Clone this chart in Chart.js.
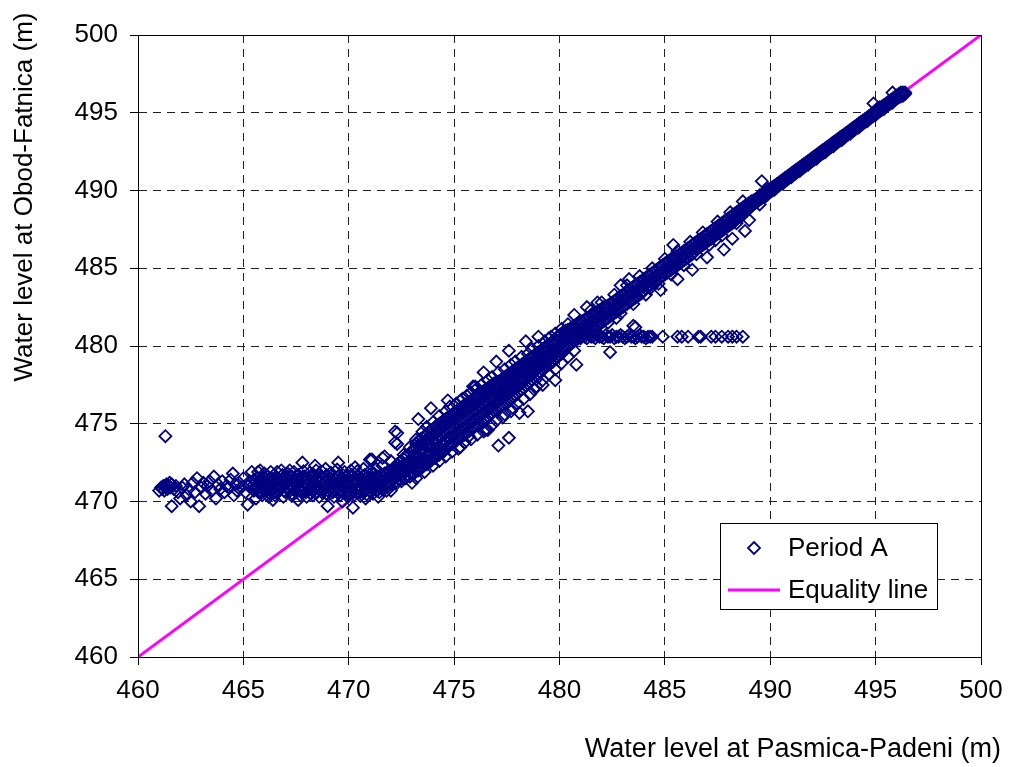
<!DOCTYPE html>
<html>
<head>
<meta charset="utf-8">
<script src="https://cdn.jsdelivr.net/npm/chart.js@4/dist/chart.umd.min.js"></script>
<style>
  html, body { margin: 0; padding: 0; background: #fff; }
  canvas { display: block; }
</style>
</head>
<body>
<canvas id="c" width="1009" height="767"></canvas>
<script>
// ---------------- DATA ----------------
const tickValues = [460, 465, 470, 475, 480, 485, 490, 495, 500];
const xTitle = "Water level at Pasmica-Padeni (m)";
const yTitle = "Water level at Obod-Fatnica (m)";
const seriesNames = ["Period A", "Equality line"];
const equalityLine = [[460, 460], [500, 500]];

// rows: [x, y1, y2, ...]  (Period A, low-flow plateau)
const flatLeft = [
  [461.0, 470.7], [461.1, 470.9], [461.15, 470.8], [461.2, 471.0], [461.25, 470.7],
  [461.3, 470.9, 474.2], [461.35, 471.1], [461.4, 470.8], [461.45, 471.0], [461.5, 471.2],
  [461.55, 470.9], [461.6, 471.1, 469.7], [461.7, 470.8]
];
const flatSparse = [
  [461.8, 471.0], [461.9, 470.6], [462.0, 470.2], [462.1, 470.9], [462.2, 471.1], [462.3, 470.4],
  [462.4, 470.8], [462.5, 470.0], [462.6, 471.2], [462.7, 470.6], [462.8, 471.5], [462.9, 469.7],
  [463.0, 470.9], [463.1, 471.2], [463.2, 470.5], [463.3, 471.0], [463.4, 471.3], [463.5, 470.7],
  [463.6, 471.6], [463.7, 470.2], [463.8, 471.1], [463.9, 470.8], [464.0, 471.3], [464.1, 470.6],
  [464.2, 471.0], [464.3, 470.9], [464.4, 471.4], [464.5, 471.8], [464.55, 470.4], [464.6, 471.1],
  [464.7, 470.7], [464.8, 471.2], [464.9, 470.9], [465.0, 471.5], [465.1, 470.6], [465.2, 469.8],
  [465.25, 471.0], [465.3, 471.3], [465.4, 471.9], [465.45, 470.8]
];
const flatDense = [
  [465.5, 470.7, 471.1, 471.4], [465.65, 470.8, 471.0, 471.5], [465.8, 470.6, 471.2, 471.4],
  [465.95, 470.9, 471.1, 471.6], [466.1, 470.7, 471.0, 471.3], [466.25, 470.5, 471.2, 471.5],
  [466.4, 470.8, 471.1, 471.4], [466.55, 470.6, 470.9, 471.6], [466.7, 470.7, 471.2, 471.4],
  [466.85, 470.9, 471.0, 471.7], [467.0, 470.6, 471.1, 471.5], [467.15, 470.8, 471.3, 471.4],
  [467.3, 470.5, 471.0, 471.6], [467.45, 470.7, 471.2, 471.5], [467.6, 470.9, 471.1, 471.7],
  [467.75, 470.6, 471.0, 471.4], [467.9, 470.8, 471.2, 471.6], [468.05, 470.7, 471.1, 471.5],
  [468.2, 470.5, 470.9, 471.4], [468.35, 470.8, 471.2, 471.7], [468.5, 470.6, 471.0, 471.5],
  [468.65, 470.9, 471.3, 471.6], [468.8, 470.7, 471.1, 471.4], [468.95, 470.5, 471.0, 471.7],
  [469.1, 470.8, 471.2, 471.5], [469.25, 470.6, 471.1, 471.6], [469.4, 470.7, 470.9, 471.4],
  [469.55, 470.9, 471.3, 471.7], [469.7, 470.6, 471.0, 471.5], [469.85, 470.8, 471.2, 471.6],
  [470.0, 470.5, 471.1, 471.4], [470.15, 470.7, 470.9, 471.7], [470.3, 470.8, 471.2, 471.5],
  [470.45, 470.6, 471.0, 471.6], [470.6, 470.9, 471.3, 471.5], [470.75, 470.7, 471.1, 471.7],
  [470.9, 470.8, 471.2, 471.6], [471.05, 470.6, 471.0, 471.5], [471.2, 470.9, 471.3, 471.8],
  [471.35, 470.7, 471.1, 471.6]
];
const flatFill = [
  [465.57, 470.9, 471.3], [465.72, 470.6, 471.2], [465.87, 470.8, 471.5], [466.02, 470.7, 471.3],
  [466.17, 470.9, 471.6], [466.32, 470.8, 471.3], [466.47, 470.6, 471.2], [466.62, 470.8, 471.5],
  [466.77, 470.9, 471.3], [466.92, 470.7, 471.4], [467.07, 470.9, 471.2], [467.22, 470.7, 471.6],
  [467.37, 470.8, 471.3], [467.52, 470.6, 471.4], [467.67, 470.8, 471.3], [467.82, 470.9, 471.6],
  [467.97, 470.6, 471.4], [468.12, 470.8, 471.3], [468.27, 470.7, 471.6], [468.42, 470.9, 471.4],
  [468.57, 470.8, 471.3], [468.72, 470.6, 471.5], [468.87, 470.9, 471.3], [469.02, 470.7, 471.4],
  [469.17, 470.9, 471.3], [469.32, 470.8, 471.5], [469.47, 470.6, 471.2], [469.62, 470.7, 471.4],
  [469.77, 470.9, 471.3], [469.92, 470.7, 471.6], [470.07, 470.8, 471.3], [470.22, 470.6, 471.4],
  [470.37, 470.9, 471.3], [470.52, 470.8, 471.5], [470.67, 470.6, 471.4], [470.82, 470.9, 471.3],
  [470.97, 470.7, 471.4], [471.12, 470.8, 471.5], [471.27, 470.9, 471.4], [471.42, 471.0, 471.4]
];
const flatScatter = [
  [465.7, 471.9], [465.9, 470.4], [466.0, 471.8], [466.2, 470.3], [466.3, 471.9], [466.5, 470.4],
  [466.8, 472.0], [466.9, 470.3], [467.1, 471.8], [467.3, 470.35], [467.4, 471.9], [467.7, 470.4],
  [467.85, 471.95], [468.0, 470.3], [468.15, 471.85], [468.3, 470.4], [468.45, 472.0], [468.6, 470.3],
  [468.75, 471.9], [469.0, 470.4], [469.15, 471.85], [469.3, 470.3], [469.45, 472.05], [469.6, 470.4],
  [469.8, 471.9], [469.95, 470.3], [470.1, 472.0], [470.25, 470.4], [470.4, 471.95], [470.55, 470.35],
  [470.7, 472.1], [470.85, 470.45], [471.0, 471.95], [471.15, 470.5], [471.3, 472.1], [471.45, 470.6],
  [471.6, 472.3], [471.8, 470.7], [472.0, 472.6]
];
const flatOutliers = [
  [467.8, 472.5], [468.4, 472.3], [469.5, 472.5], [471.0, 472.7], [471.7, 472.9], [472.3, 474.4],
  [472.3, 473.7], [466.4, 470.1], [467.6, 470.1], [469.0, 469.7], [469.7, 470.0], [470.2, 469.6],
  [465.8, 472.0], [466.6, 471.9], [467.2, 472.0], [468.9, 472.1], [470.3, 472.2], [465.6, 470.2],
  [470.8, 470.2], [471.4, 470.3]
];
// rising limb
const riseBand = [
  [471.5, 470.9, 471.2, 471.5, 471.7], [471.7, 470.8, 471.1, 471.4, 471.8],
  [471.9, 471.0, 471.3, 471.6, 472.0], [472.1, 471.1, 471.4, 471.7, 472.1],
  [472.3, 471.2, 471.6, 471.9, 472.4], [472.5, 471.3, 471.7, 472.1, 472.6],
  [472.7, 471.5, 471.9, 472.3, 472.9], [472.9, 471.6, 472.1, 472.6, 473.1],
  [473.1, 471.8, 472.3, 472.8, 473.4], [473.3, 472.0, 472.5, 473.0, 473.6, 473.9],
  [473.5, 472.2, 472.7, 473.2, 473.7, 474.1], [473.7, 472.4, 472.9, 473.5, 473.9, 474.3],
  [473.9, 472.6, 473.1, 473.6, 474.1, 474.6], [474.1, 472.8, 473.3, 473.8, 474.4, 474.8],
  [474.3, 473.0, 473.5, 474.1, 474.6, 475.0], [474.5, 473.2, 473.7, 474.3, 474.8, 475.2],
  [474.7, 473.5, 474.0, 474.5, 475.0, 475.4], [474.9, 473.7, 474.2, 474.7, 475.2, 475.6],
  [475.1, 473.9, 474.4, 474.9, 475.4, 475.8], [475.3, 474.1, 474.6, 475.1, 475.6, 476.0],
  [475.5, 474.3, 474.8, 475.3, 475.8, 476.2], [475.7, 474.5, 475.0, 475.5, 476.0, 476.4],
  [475.9, 474.7, 475.2, 475.7, 476.2, 476.6], [476.1, 474.9, 475.4, 475.9, 476.4, 476.8],
  [476.3, 475.1, 475.6, 476.1, 476.6, 477.0], [476.5, 475.3, 475.8, 476.3, 476.8, 477.2],
  [476.7, 475.6, 476.0, 476.5, 477.0, 477.4], [476.9, 475.8, 476.3, 476.7, 477.2, 477.6],
  [477.1, 476.0, 476.5, 476.9, 477.4, 477.7], [477.3, 476.2, 476.7, 477.1, 477.6, 477.9],
  [477.5, 476.4, 476.9, 477.3, 477.8, 478.1], [477.7, 476.6, 477.1, 477.5, 478.0, 478.3],
  [477.9, 476.8, 477.3, 477.7, 478.2, 478.5], [478.1, 477.1, 477.5, 477.9, 478.4, 478.7],
  [478.3, 477.3, 477.7, 478.2, 478.6, 478.9], [478.5, 477.6, 478.0, 478.4, 478.8, 479.1],
  [478.7, 477.8, 478.2, 478.6, 479.0, 479.3], [478.9, 478.1, 478.5, 478.8, 479.2, 479.5],
  [479.1, 478.3, 478.7, 479.0, 479.4, 479.7], [479.3, 478.6, 478.9, 479.3, 479.6, 479.9],
  [479.5, 478.8, 479.1, 479.5, 479.8, 480.1], [479.7, 479.0, 479.4, 479.7, 480.1, 480.3],
  [479.9, 479.3, 479.6, 479.9, 480.3, 480.6], [480.1, 479.5, 479.8, 480.2, 480.5, 480.8],
  [480.3, 479.8, 480.1, 480.4, 480.7, 481.0], [480.5, 480.1, 480.4, 480.6, 480.9, 481.1],
  [480.7, 480.3, 480.6, 480.8, 481.1, 481.3], [480.9, 480.5, 480.8, 481.0, 481.3, 481.5]
];
const riseFill = [
  [471.6, 471.0, 471.35, 471.65], [471.8, 471.1, 471.45, 471.8], [472.0, 471.2, 471.5, 471.9],
  [472.2, 471.25, 471.6, 472.0, 472.2], [472.4, 471.4, 471.8, 472.2, 472.5],
  [472.6, 471.5, 471.9, 472.35, 472.75], [472.8, 471.7, 472.1, 472.5, 472.95],
  [473.0, 471.8, 472.3, 472.75, 473.2], [473.2, 472.0, 472.5, 472.95, 473.45, 473.7],
  [473.4, 472.2, 472.65, 473.2, 473.65, 474.0], [473.6, 472.4, 472.85, 473.35, 473.85, 474.2],
  [473.8, 472.6, 473.1, 473.6, 474.05, 474.45], [474.0, 472.8, 473.3, 473.8, 474.25, 474.65],
  [474.2, 473.0, 473.5, 474.0, 474.45, 474.9], [474.4, 473.2, 473.7, 474.2, 474.7, 475.1],
  [474.6, 473.4, 473.9, 474.4, 474.9, 475.3], [474.8, 473.65, 474.1, 474.6, 475.1, 475.5],
  [475.0, 473.85, 474.3, 474.8, 475.3, 475.7], [475.2, 474.05, 474.5, 475.0, 475.5, 475.9],
  [475.4, 474.25, 474.7, 475.2, 475.7, 476.1], [475.6, 474.45, 474.9, 475.4, 475.9, 476.3],
  [475.8, 474.65, 475.1, 475.6, 476.1, 476.5], [476.0, 474.85, 475.3, 475.8, 476.3, 476.7],
  [476.2, 475.05, 475.5, 476.0, 476.5, 476.9], [476.4, 475.25, 475.7, 476.2, 476.7, 477.1],
  [476.6, 475.5, 475.9, 476.4, 476.9, 477.3], [476.8, 475.7, 476.15, 476.6, 477.1, 477.5],
  [477.0, 475.9, 476.4, 476.8, 477.3, 477.65], [477.2, 476.1, 476.6, 477.0, 477.5, 477.8],
  [477.4, 476.3, 476.8, 477.2, 477.7, 478.0], [477.6, 476.5, 477.0, 477.4, 477.9, 478.2],
  [477.8, 476.7, 477.2, 477.6, 478.1, 478.4], [478.0, 476.95, 477.4, 477.8, 478.3, 478.6],
  [478.2, 477.2, 477.6, 478.05, 478.5, 478.8], [478.4, 477.45, 477.85, 478.3, 478.7, 479.0],
  [478.6, 477.7, 478.1, 478.5, 478.9, 479.2], [478.8, 477.95, 478.35, 478.7, 479.1, 479.4],
  [479.0, 478.2, 478.6, 478.9, 479.3, 479.6], [479.2, 478.45, 478.8, 479.15, 479.5, 479.8],
  [479.4, 478.7, 479.0, 479.4, 479.7, 480.0], [479.6, 478.9, 479.25, 479.6, 479.95, 480.2],
  [479.8, 479.15, 479.5, 479.8, 480.2, 480.45], [480.0, 479.4, 479.7, 480.05, 480.4, 480.7],
  [480.2, 479.65, 479.95, 480.3, 480.6, 480.9], [480.4, 479.95, 480.25, 480.5, 480.8, 481.05],
  [480.6, 480.2, 480.5, 480.7, 481.0, 481.2], [480.8, 480.4, 480.7, 480.9, 481.2, 481.4],
  [481.0, 480.6, 480.9, 481.1, 481.4, 481.6]
];
const riseScatter = [
  [472.6, 473.0], [472.9, 473.5], [473.2, 474.0], [473.5, 474.5], [473.7, 474.8], [474.0, 475.1],
  [474.3, 475.5], [474.6, 475.8], [474.8, 476.1], [475.1, 476.3], [475.3, 476.5], [475.6, 476.8],
  [475.8, 477.0], [476.1, 477.3], [476.3, 477.5], [476.6, 477.8], [476.8, 478.0], [477.1, 478.3],
  [477.4, 478.5], [477.7, 478.8], [477.9, 479.0], [478.2, 479.3], [478.5, 479.5], [478.7, 479.8],
  [479.0, 480.0], [479.3, 480.3], [479.5, 480.5], [479.8, 480.8], [480.1, 481.1], [480.4, 481.4],
  [473.2, 471.5], [473.6, 471.9], [474.3, 472.6], [474.6, 472.9], [474.9, 473.2], [475.2, 473.4],
  [475.5, 473.8], [475.8, 474.0], [476.1, 474.3], [476.4, 474.5], [476.8, 474.9], [477.0, 475.2],
  [477.4, 475.6], [477.8, 476.0], [478.0, 476.3], [478.3, 476.6], [478.6, 476.9], [478.9, 477.4],
  [479.2, 477.8], [479.5, 478.2], [479.8, 478.5], [480.1, 478.9], [480.4, 479.3], [480.7, 479.7]
];
const riseOutliers = [
  [476.0, 477.4], [474.7, 476.5], [473.9, 476.0], [473.3, 475.3], [472.2, 474.5], [472.2, 473.8],
  [471.1, 472.7], [471.6, 472.8], [475.4, 476.6], [478.4, 480.3], [479.0, 480.6], [479.6, 480.6],
  [477.6, 479.7], [477.0, 479.0], [476.4, 478.3], [475.9, 477.4], [480.7, 482.0], [481.3, 482.5],
  [481.8, 482.8], [477.1, 473.6], [477.6, 474.1], [476.5, 474.6], [475.3, 473.5], [475.7, 474.2],
  [472.0, 470.7], [477.3, 475.4], [477.7, 475.8], [480.8, 478.8], [482.4, 479.6], [479.8, 477.8],
  [479.2, 477.5], [478.8, 477.2], [478.5, 475.8], [478.1, 475.7], [476.6, 474.6], [473.0, 471.2],
  [474.0, 472.3]
];
// upper limb
const upperBand = [
  [481.1, 480.7, 481.1, 481.6], [481.3, 480.9, 481.3, 481.8], [481.5, 481.0, 481.5, 482.0],
  [481.7, 481.2, 481.7, 482.1], [481.9, 481.4, 481.9, 482.3], [482.1, 481.6, 482.0, 482.5],
  [482.3, 481.8, 482.2, 482.6], [482.5, 482.0, 482.4, 482.8], [482.7, 482.2, 482.6, 483.0],
  [482.9, 482.4, 482.8, 483.2], [483.1, 482.6, 483.0, 483.4], [483.3, 482.8, 483.2, 483.6],
  [483.5, 483.0, 483.4, 483.8], [483.7, 483.2, 483.6, 484.0], [483.9, 483.4, 483.8, 484.2],
  [484.1, 483.7, 484.0, 484.4], [484.3, 483.9, 484.2, 484.6], [484.5, 484.1, 484.4, 484.8],
  [484.7, 484.3, 484.6, 485.0], [484.9, 484.5, 484.8, 485.2], [485.1, 484.7, 485.0, 485.4],
  [485.3, 484.9, 485.2, 485.6], [485.5, 485.1, 485.4, 485.7], [485.7, 485.3, 485.6, 485.9],
  [485.9, 485.5, 485.8, 486.1], [486.1, 485.7, 486.0, 486.3], [486.3, 485.9, 486.2, 486.5],
  [486.5, 486.2, 486.4, 486.7], [486.7, 486.4, 486.6, 486.9], [486.9, 486.6, 486.8, 487.1],
  [487.1, 486.8, 487.0, 487.3], [487.3, 487.0, 487.2, 487.5], [487.5, 487.2, 487.4, 487.7],
  [487.7, 487.4, 487.6, 487.9], [487.9, 487.6, 487.8, 488.1], [488.1, 487.8, 488.0, 488.3],
  [488.3, 488.0, 488.2, 488.5], [488.5, 488.3, 488.4, 488.7], [488.7, 488.5, 488.7, 488.9],
  [488.9, 488.7, 488.9, 489.1]
];
const upperFill = [
  [481.2, 480.85, 481.2, 481.7], [481.4, 481.0, 481.4, 481.85], [481.6, 481.15, 481.6, 482.05],
  [481.8, 481.3, 481.8, 482.2], [482.0, 481.5, 481.95, 482.4], [482.2, 481.7, 482.1, 482.55],
  [482.4, 481.9, 482.3, 482.7], [482.6, 482.1, 482.5, 482.9], [482.8, 482.3, 482.7, 483.1],
  [483.0, 482.5, 482.9, 483.3], [483.2, 482.7, 483.1, 483.5], [483.4, 482.9, 483.3, 483.7],
  [483.6, 483.1, 483.5, 483.9], [483.8, 483.3, 483.7, 484.1], [484.0, 483.55, 483.9, 484.3],
  [484.2, 483.8, 484.1, 484.5], [484.4, 484.0, 484.3, 484.7], [484.6, 484.2, 484.5, 484.9],
  [484.8, 484.4, 484.7, 485.1], [485.0, 484.6, 484.9, 485.3], [485.2, 484.8, 485.1, 485.5],
  [485.4, 485.0, 485.3, 485.65], [485.6, 485.2, 485.5, 485.8], [485.8, 485.4, 485.7, 486.0],
  [486.0, 485.6, 485.9, 486.2], [486.2, 485.8, 486.1, 486.4], [486.4, 486.05, 486.3, 486.6],
  [486.6, 486.3, 486.5, 486.8], [486.8, 486.5, 486.7, 487.0], [487.0, 486.7, 486.9, 487.2],
  [487.2, 486.9, 487.1, 487.4], [487.4, 487.1, 487.3, 487.6], [487.6, 487.3, 487.5, 487.8],
  [487.8, 487.5, 487.7, 488.0], [488.0, 487.7, 487.9, 488.2], [488.2, 487.9, 488.1, 488.4],
  [488.4, 488.15, 488.3, 488.6], [488.6, 488.4, 488.55, 488.8], [488.8, 488.6, 488.8, 489.0],
  [489.0, 488.85, 489.0, 489.2]
];
const upperScatter = [
  [481.5, 482.3], [482.0, 482.8], [482.6, 483.3], [483.2, 483.9], [483.8, 484.5], [484.4, 485.0],
  [485.0, 485.6], [485.6, 486.1], [486.2, 486.7], [486.8, 487.3], [487.5, 488.0], [488.1, 488.6],
  [481.7, 480.9], [482.3, 481.5], [482.9, 482.1], [483.5, 482.7], [484.1, 483.3], [484.7, 484.0],
  [485.3, 484.6], [485.9, 485.2], [486.5, 485.9], [487.1, 486.5], [487.7, 487.1], [488.4, 487.9]
];
const topBand = [
  [489.1, 489.0, 489.3], [489.3, 489.2, 489.4], [489.5, 489.4, 489.7], [489.7, 489.6, 489.8],
  [489.9, 489.8, 490.1], [490.1, 490.0, 490.2], [490.3, 490.2, 490.4], [490.5, 490.4, 490.6],
  [490.7, 490.6, 490.8], [490.9, 490.8, 491.0], [491.1, 491.0, 491.2], [491.3, 491.2, 491.4],
  [491.5, 491.4, 491.6], [491.7, 491.6, 491.8], [491.9, 491.8, 492.0], [492.1, 492.0, 492.2],
  [492.3, 492.2, 492.4], [492.5, 492.4, 492.6], [492.7, 492.6, 492.8], [492.9, 492.8, 493.0],
  [493.1, 493.0, 493.2], [493.3, 493.2, 493.4], [493.5, 493.4, 493.6], [493.7, 493.6, 493.8],
  [493.9, 493.8, 494.0], [494.1, 494.0, 494.2], [494.3, 494.2, 494.4], [494.5, 494.4, 494.6],
  [494.7, 494.6, 494.8], [494.9, 494.8, 495.0], [495.1, 495.0, 495.3], [495.3, 495.2, 495.4],
  [495.5, 495.4, 495.6], [495.7, 495.6, 495.8], [495.9, 495.8, 496.0], [496.1, 496.0, 496.2],
  [496.3, 496.1, 496.3]
];
const topFill = [
  [489.2, 489.1, 489.35], [489.4, 489.3, 489.5], [489.6, 489.5, 489.75], [489.8, 489.65, 489.9],
  [490.0, 489.9, 490.1], [490.2, 490.05, 490.3], [490.4, 490.3, 490.5], [490.6, 490.45, 490.7],
  [490.8, 490.7, 490.9], [491.0, 490.85, 491.1], [491.2, 491.1, 491.3], [491.4, 491.25, 491.5],
  [491.6, 491.5, 491.7], [491.8, 491.65, 491.9], [492.0, 491.9, 492.1], [492.2, 492.05, 492.3],
  [492.4, 492.3, 492.5], [492.6, 492.45, 492.7], [492.8, 492.7, 492.9], [493.0, 492.85, 493.1],
  [493.2, 493.1, 493.3], [493.4, 493.25, 493.5], [493.6, 493.5, 493.7], [493.8, 493.65, 493.9],
  [494.0, 493.9, 494.1], [494.2, 494.05, 494.3], [494.4, 494.3, 494.5], [494.6, 494.45, 494.7],
  [494.8, 494.7, 494.9], [495.0, 494.85, 495.1], [495.2, 495.1, 495.35], [495.4, 495.25, 495.5],
  [495.6, 495.5, 495.7], [495.8, 495.65, 495.9], [496.0, 495.9, 496.1], [496.2, 496.05, 496.3],
  [496.4, 496.2, 496.3]
];
const upperOutliers = [
  [485.4, 486.5], [484.8, 483.6], [484.3, 483.7], [485.6, 484.3], [486.3, 484.9], [487.0, 485.7],
  [487.8, 486.2], [488.2, 486.9], [488.8, 487.4], [487.4, 486.8], [483.6, 481.2], [482.7, 481.8],
  [483.3, 484.3], [482.9, 483.9], [488.6, 488.3], [489.0, 488.1], [488.7, 489.3],
  [489.6, 490.6], [489.5, 489.1], [494.9, 495.6], [495.8, 496.3], [483.5, 481.3]
];
// horizontal branch near 480.6 m
const branch = [
  [480.9, 480.6], [481.0, 480.5], [481.1, 480.7], [481.2, 480.6], [481.3, 480.5], [481.4, 480.7],
  [481.5, 480.6], [481.6, 480.6], [481.7, 480.5], [481.8, 480.7], [481.9, 480.6], [482.0, 480.6],
  [482.1, 480.5], [482.2, 480.7], [482.3, 480.6], [482.4, 480.6], [482.5, 480.7], [482.6, 480.5],
  [482.7, 480.6], [482.8, 480.6], [482.9, 480.7], [483.0, 480.6], [483.1, 480.5], [483.2, 480.6],
  [483.3, 480.7], [483.4, 480.6], [483.5, 480.6], [483.6, 480.5], [483.7, 480.6], [483.8, 480.7],
  [483.9, 480.6], [484.0, 480.6], [484.1, 480.5], [484.2, 480.6], [484.3, 480.6], [484.4, 480.6],
  [484.9, 480.6], [485.6, 480.6], [485.8, 480.6], [486.1, 480.6], [486.6, 480.6], [486.7, 480.6],
  [487.2, 480.6], [487.4, 480.6], [487.7, 480.6], [488.0, 480.6], [488.2, 480.6], [488.4, 480.6],
  [488.7, 480.6]
];

// ---------------- BUILD ----------------
function rowsToPoints(rows) {
  const out = [];
  rows.forEach(r => { for (let i = 1; i < r.length; i++) out.push({ x: r[0], y: r[i] }); });
  return out;
}
const periodA = [].concat(
  rowsToPoints(flatLeft), rowsToPoints(flatSparse), rowsToPoints(flatDense), rowsToPoints(flatFill),
  rowsToPoints(flatScatter), rowsToPoints(flatOutliers), rowsToPoints(riseBand), rowsToPoints(riseFill),
  rowsToPoints(riseScatter), rowsToPoints(riseOutliers), rowsToPoints(upperBand), rowsToPoints(upperFill),
  rowsToPoints(upperScatter), rowsToPoints(topBand), rowsToPoints(topFill),
  rowsToPoints(upperOutliers), rowsToPoints(branch)
);

const FONT = "'Liberation Sans', Arial, sans-serif";
const NAVY = '#000080';
const MAGENTA = '#FF00FF';

const decor = {
  id: 'decor',
  afterDraw(chart) {
    const ctx = chart.ctx;
    const a = chart.chartArea;
    ctx.save();
    ctx.strokeStyle = '#000';
    ctx.lineWidth = 1;
    ctx.strokeRect(Math.round(a.left) + 0.5, Math.round(a.top) + 0.5,
                   Math.round(a.right - a.left), Math.round(a.bottom - a.top));
    ctx.fillStyle = '#000';
    ctx.textBaseline = 'middle';
    ctx.textAlign = 'right';
    ctx.font = '27px ' + FONT;
    ctx.fillText(xTitle, 1001, 750);
    ctx.save();
    ctx.translate(25, 197);
    ctx.rotate(-Math.PI / 2);
    ctx.textAlign = 'center';
    ctx.font = '26px ' + FONT;
    ctx.fillText(yTitle, 0, 0);
    ctx.restore();
    const lx = 720, ly = 523, lw = 217, lh = 86;
    ctx.fillStyle = '#fff';
    ctx.fillRect(lx, ly, lw, lh);
    ctx.strokeStyle = '#000';
    ctx.lineWidth = 1;
    ctx.strokeRect(lx + 0.5, ly + 0.5, lw, lh);
    ctx.strokeStyle = NAVY;
    ctx.lineWidth = 1.8;
    ctx.beginPath();
    ctx.moveTo(754, 542); ctx.lineTo(760, 548); ctx.lineTo(754, 554); ctx.lineTo(748, 548); ctx.closePath();
    ctx.stroke();
    ctx.strokeStyle = MAGENTA;
    ctx.lineWidth = 3;
    ctx.beginPath(); ctx.moveTo(728, 590); ctx.lineTo(780, 590); ctx.stroke();
    ctx.fillStyle = '#000';
    ctx.textAlign = 'left';
    ctx.font = '26px ' + FONT;
    ctx.fillText(seriesNames[0], 788, 549);
    ctx.fillText(seriesNames[1], 788, 591);
    ctx.restore();
  }
};

function axisOpts(isX) {
  return {
    type: 'linear',
    min: tickValues[0],
    max: tickValues[tickValues.length - 1],
    afterBuildTicks: s => { s.ticks = tickValues.map(v => ({ value: v })); },
    afterFit: s => {
      if (isX) s.height = 110; else s.width = 138;
      s.paddingLeft = 0; s.paddingRight = 0; s.paddingTop = 0; s.paddingBottom = 0;
    },
    grid: {
      color: '#222', lineWidth: 1, drawTicks: true, tickLength: 8,
      tickColor: '#000', tickWidth: 1, tickBorderDash: []
    },
    border: { display: true, color: '#000', width: 1, dash: [8, 6] },
    ticks: {
      color: '#000',
      font: { family: FONT, size: 26 },
      padding: isX ? 10 : 12,
      maxRotation: 0,
      autoSkip: false,
      callback: v => String(v)
    },
    title: { display: false }
  };
}

new Chart(document.getElementById('c'), {
  type: 'scatter',
  data: {
    datasets: [
      {
        label: seriesNames[0],
        data: periodA,
        pointStyle: 'rectRot',
        pointRadius: 6,
        pointHoverRadius: 6,
        borderColor: NAVY,
        backgroundColor: 'rgba(0,0,0,0)',
        borderWidth: 1.8,
        order: 0
      },
      {
        type: 'line',
        label: seriesNames[1],
        data: equalityLine.map(p => ({ x: p[0], y: p[1] })),
        borderColor: MAGENTA,
        borderWidth: 3,
        pointRadius: 0,
        showLine: true,
        fill: false,
        order: 1
      }
    ]
  },
  options: {
    responsive: false,
    animation: false,
    devicePixelRatio: 1,
    layout: { padding: { top: 35, right: 28, left: 0, bottom: 0 } },
    plugins: { legend: { display: false }, tooltip: { enabled: false }, title: { display: false } },
    scales: { x: axisOpts(true), y: axisOpts(false) }
  },
  plugins: [decor]
});
</script>
</body>
</html>
